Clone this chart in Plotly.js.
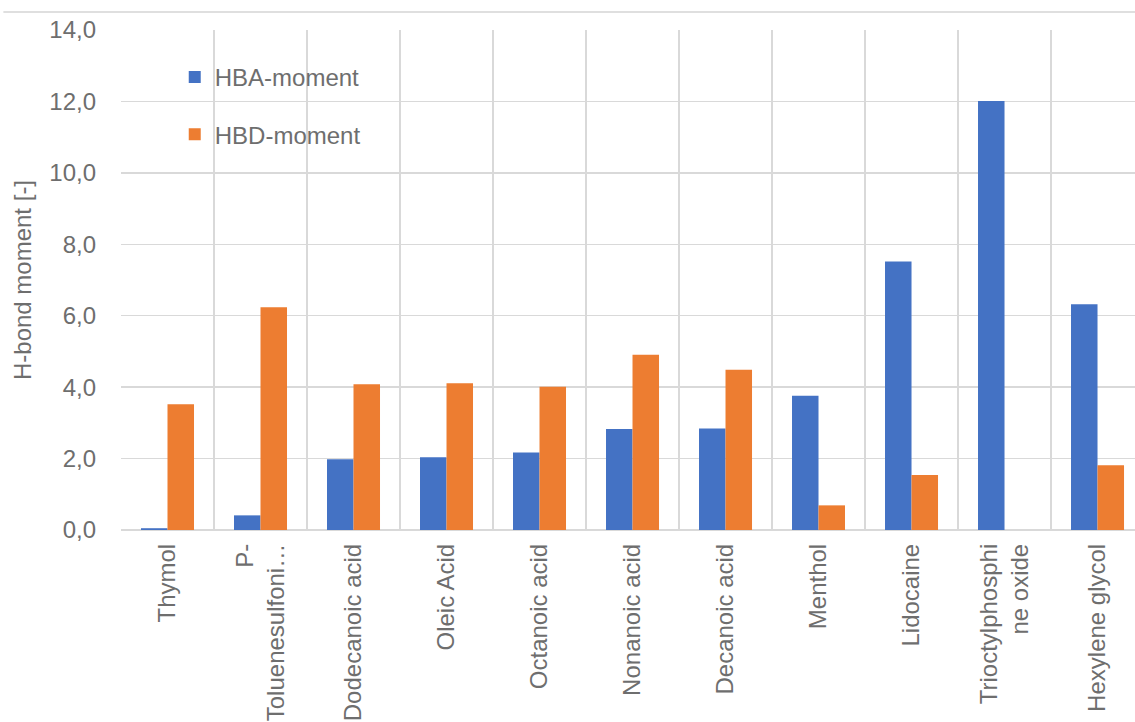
<!DOCTYPE html>
<html>
<head>
<meta charset="utf-8">
<script src="https://cdn.plot.ly/plotly-3.0.1.min.js"></script>
<style>
  html, body { margin: 0; padding: 0; background: #ffffff; }
  #chart { width: 1135px; height: 722px; }
</style>
</head>
<body>
<div id="chart"></div>
<script>
// Hydrogen-bond moments of the mixture components
const compounds = [
  "Thymol",
  "P-<br>Toluenesulfoni…",
  "Dodecanoic acid",
  "Oleic Acid",
  "Octanoic acid",
  "Nonanoic acid",
  "Decanoic acid",
  "Menthol",
  "Lidocaine",
  "Trioctylphosphi<br>ne oxide",
  "Hexylene glycol"
];
const hbaMoment = [0.05, 0.41, 1.98, 2.04, 2.17, 2.83, 2.84, 3.76, 7.52, 12.01, 6.32];
const hbdMoment = [3.52, 6.24, 4.08, 4.11, 4.01, 4.91, 4.49, 0.69, 1.54, 0.00, 1.81];

const textGray = "#6e6e6e";
const gridGray = "#d9d9d9";
const fontFamily = "Liberation Sans, Arial, sans-serif";

const traces = [
  {
    type: "bar",
    name: "HBA-moment",
    x: compounds,
    y: hbaMoment,
    marker: { color: "#4472C4", line: { width: 0 } },
    legendgroup: "hba"
  },
  {
    type: "bar",
    name: "HBD-moment",
    x: compounds,
    y: hbdMoment,
    marker: { color: "#ED7D31", line: { width: 0 } },
    legendgroup: "hbd"
  }
];

const layout = {
  width: 1135,
  height: 722,
  margin: { l: 121, r: 0, t: 30, b: 192 },
  paper_bgcolor: "#ffffff",
  plot_bgcolor: "#ffffff",
  separators: ", ",
  font: { family: fontFamily, size: 24, color: textGray },
  barmode: "group",
  bargap: 0.43,
  bargroupgap: 0,
  showlegend: true,
  legend: {
    x: 0.053,
    xanchor: "left",
    y: 0.95,
    yanchor: "top",
    bgcolor: "rgba(0,0,0,0)",
    borderwidth: 0,
    tracegroupgap: 23,
    traceorder: "grouped",
    font: { family: fontFamily, size: 24, color: textGray }
  },
  xaxis: {
    type: "category",
    range: [-0.5, 10.403],
    tickson: "boundaries",
    showgrid: true,
    gridcolor: gridGray,
    gridwidth: 1.5,
    showline: false,
    ticks: "",
    tickangle: -90,
    ticklabelstandoff: 8,
    tickfont: { family: fontFamily, size: 24, color: textGray },
    fixedrange: true
  },
  yaxis: {
    range: [0, 14],
    dtick: 2,
    tick0: 0,
    tickformat: ".1f",
    showgrid: true,
    gridcolor: gridGray,
    gridwidth: 1.5,
    zeroline: true,
    zerolinecolor: gridGray,
    zerolinewidth: 1.5,
    showline: false,
    ticks: "",
    ticklabelstandoff: 24,
    tickfont: { family: fontFamily, size: 24, color: textGray },
    title: {
      text: "H-bond moment [-]",
      font: { family: fontFamily, size: 24, color: textGray },
      standoff: 10
    },
    fixedrange: true
  },
  shapes: [
    {
      type: "line",
      xref: "paper",
      yref: "paper",
      x0: -0.116,
      x1: 1.01,
      y0: 1.036,
      y1: 1.036,
      line: { color: "#bfbfbf", width: 1 }
    }
  ]
};

Plotly.newPlot("chart", traces, layout, { displayModeBar: false, staticPlot: true });
</script>
</body>
</html>
